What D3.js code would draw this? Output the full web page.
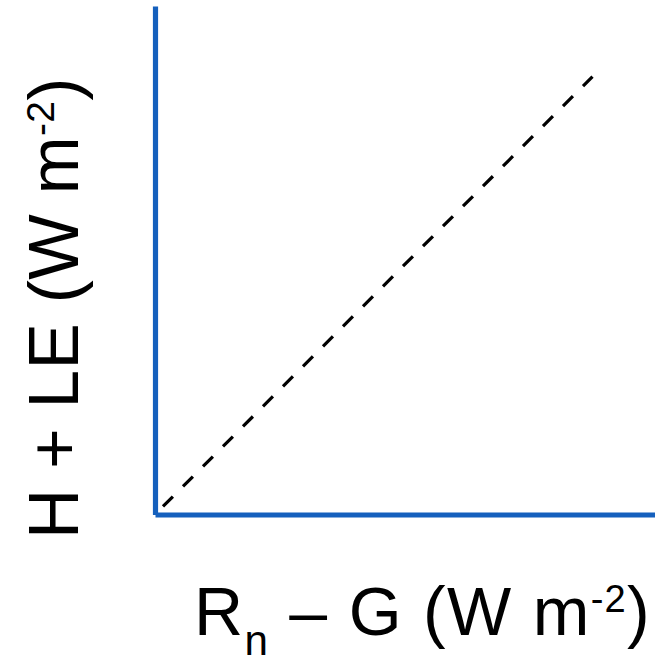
<!DOCTYPE html>
<html>
<head>
<meta charset="utf-8">
<script src="https://cdn.jsdelivr.net/npm/d3@7"></script>
<style>
  html, body { margin: 0; padding: 0; background: #fff; }
  svg { display: block; }
  text { font-family: "Liberation Sans", Arial, Helvetica, sans-serif; fill: #000; }
</style>
</head>
<body>
<script>
// Energy balance closure diagram: turbulent fluxes vs available energy
const xDomain = [0, 100];
const yDomain = [0, 101.6];
// 1:1 reference line endpoints (same units on both axes)
const oneToOne = [1.6, 87.5];
const xLabelParts = [
  { text: "R", kind: "main" },
  { text: "n", kind: "sub" },
  { text: " \u2013 G (W m", kind: "main" },
  { text: "-2", kind: "sup" },
  { text: ")", kind: "main" }
];
const yLabelParts = [
  { text: "H + LE (W m", kind: "main" },
  { text: "-2", kind: "sup" },
  { text: ")", kind: "main" }
];

const W = 655, H = 656;
const axisColor = "#1560bd";

const svg = d3.select("body").append("svg")
  .attr("width", W).attr("height", H);

const x = d3.scaleLinear().domain(xDomain).range([155, 655]);
const y = d3.scaleLinear().domain(yDomain).range([514.5, 6]);

// 1:1 dashed line
svg.append("line")
  .attr("x1", x(oneToOne[0])).attr("y1", y(oneToOne[0]))
  .attr("x2", x(oneToOne[1])).attr("y2", y(oneToOne[1]))
  .attr("stroke", "#000")
  .attr("stroke-width", 3.2)
  .attr("stroke-dasharray", "14,14.3");

// axes: plain lines, no ticks
const gx = svg.append("g")
  .attr("transform", `translate(0,${y(0)})`)
  .call(d3.axisBottom(x).tickValues([]).tickSizeOuter(0));
const gy = svg.append("g")
  .attr("transform", `translate(${x(0)},0)`)
  .call(d3.axisLeft(y).tickValues([]).tickSizeOuter(0));
[gx, gy].forEach(g => g.select(".domain")
  .attr("stroke", axisColor)
  .attr("stroke-width", 5.2)
  .attr("fill", "none"));

function addLabel(parts, el, size, spacing) {
  const t = el.append("text")
    .attr("font-size", size)
    .attr("letter-spacing", spacing);
  let shift = 0;
  parts.forEach(p => {
    let dy = 0, fs = size;
    if (p.kind === "sub") { fs = size * 0.62; dy = size * 0.29; }
    if (p.kind === "sup") { fs = size * 0.56; dy = -size * 0.34; }
    t.append("tspan")
      .attr("font-size", fs)
      .attr("dy", dy - shift)
      .text(p.text);
    shift = dy;
  });
  return t;
}

addLabel(xLabelParts, svg.append("g").attr("transform", "translate(194,635)"), 68, 1.3);
addLabel(yLabelParts, svg.append("g").attr("transform", "translate(78,539) rotate(-90)"), 69.5, 0.3);
</script>
</body>
</html>
